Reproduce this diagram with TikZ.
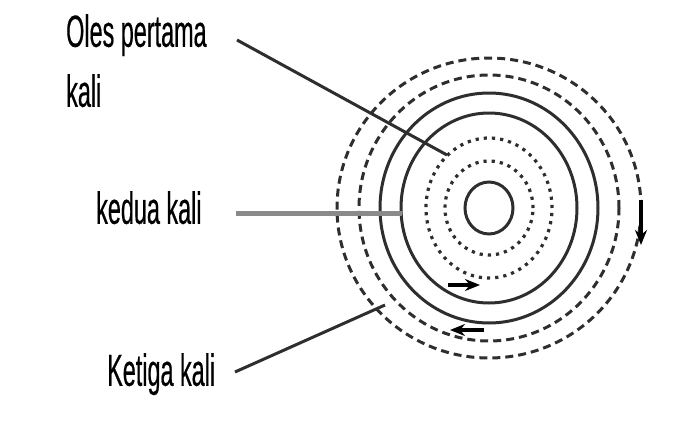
\documentclass[tikz,border=0pt]{standalone}
\usepackage{fontspec}
\usepackage{xcolor}
\usetikzlibrary{arrows.meta, calc}
\newfontfamily\labelfont[FakeStretch=0.52, FakeBold=0.4]{Liberation Sans}
\definecolor{ink}{HTML}{2E2E2E}
\definecolor{greyline}{HTML}{8A8A8A}

\begin{document}
\begin{tikzpicture}[x=1pt, y=-1pt, >=Stealth]
    \tikzset{
        label/.style={inner sep=0pt, anchor=north west, align=left, text=black, font=\labelfont\fontsize{45}{60}\selectfont},
        ring/.style={draw=ink, line width=3pt},
        dashring/.style={ring, dash pattern=on 8pt off 5pt},
        dotring/.style={draw=ink, line width=3.2pt, dash pattern=on 3.2pt off 5pt},
        line/.style={draw=ink, line width=3pt},
        tip/.style={draw=black, line width=4.5pt, -{Stealth[length=15pt, width=12pt]}}
    }
    \useasboundingbox (0,0) rectangle (697,423);

    % rings
    \coordinate (c) at (489,208);
    \draw[ring] (c) ellipse[x radius=24pt, y radius=26pt];
    \draw[dotring] (c) ellipse[x radius=44pt, y radius=47pt];
    \draw[dotring] (c) ellipse[x radius=63pt, y radius=70pt];
    \draw[ring] (c) ellipse[x radius=88pt, y radius=95pt];
    \draw[ring] (c) ellipse[x radius=109pt, y radius=115pt];
    \draw[dashring] (c) ellipse[x radius=130pt, y radius=133pt];
    \draw[dashring] (c) ellipse[x radius=152pt, y radius=150pt];

    % direction tips
    \coordinate (t1a) at (641,200);
    \coordinate (t1b) at (641,245);
    \coordinate (t2a) at (448,285);
    \coordinate (t2b) at (480,285);
    \coordinate (t3a) at (484,330);
    \coordinate (t3b) at (450,330);
    \path[tip] (t1a) -- (t1b);
    \path[tip] (t2a) -- (t2b);
    \path[tip] (t3a) -- (t3b);

    % labels
    \node (oles) [label] at (66,14) {Oles pertama\\kali};
    \node (kedua) [label] at (96,191) {kedua kali};
    \node (ketiga) [label] at (107,353) {Ketiga kali};

    \coordinate (p1) at (237,40);
    \coordinate (q1) at (447,155);
    \coordinate (p2) at (236,213);
    \coordinate (q2) at (402,213);
    \coordinate (p3) at (235,372);
    \coordinate (q3) at (385,305);
    \path [line] (p1) -- (q1);
    \path [line, draw=greyline, line width=5pt] (p2) -- (q2);
    \path [line] (p3) -- (q3);
\end{tikzpicture}
\end{document}
